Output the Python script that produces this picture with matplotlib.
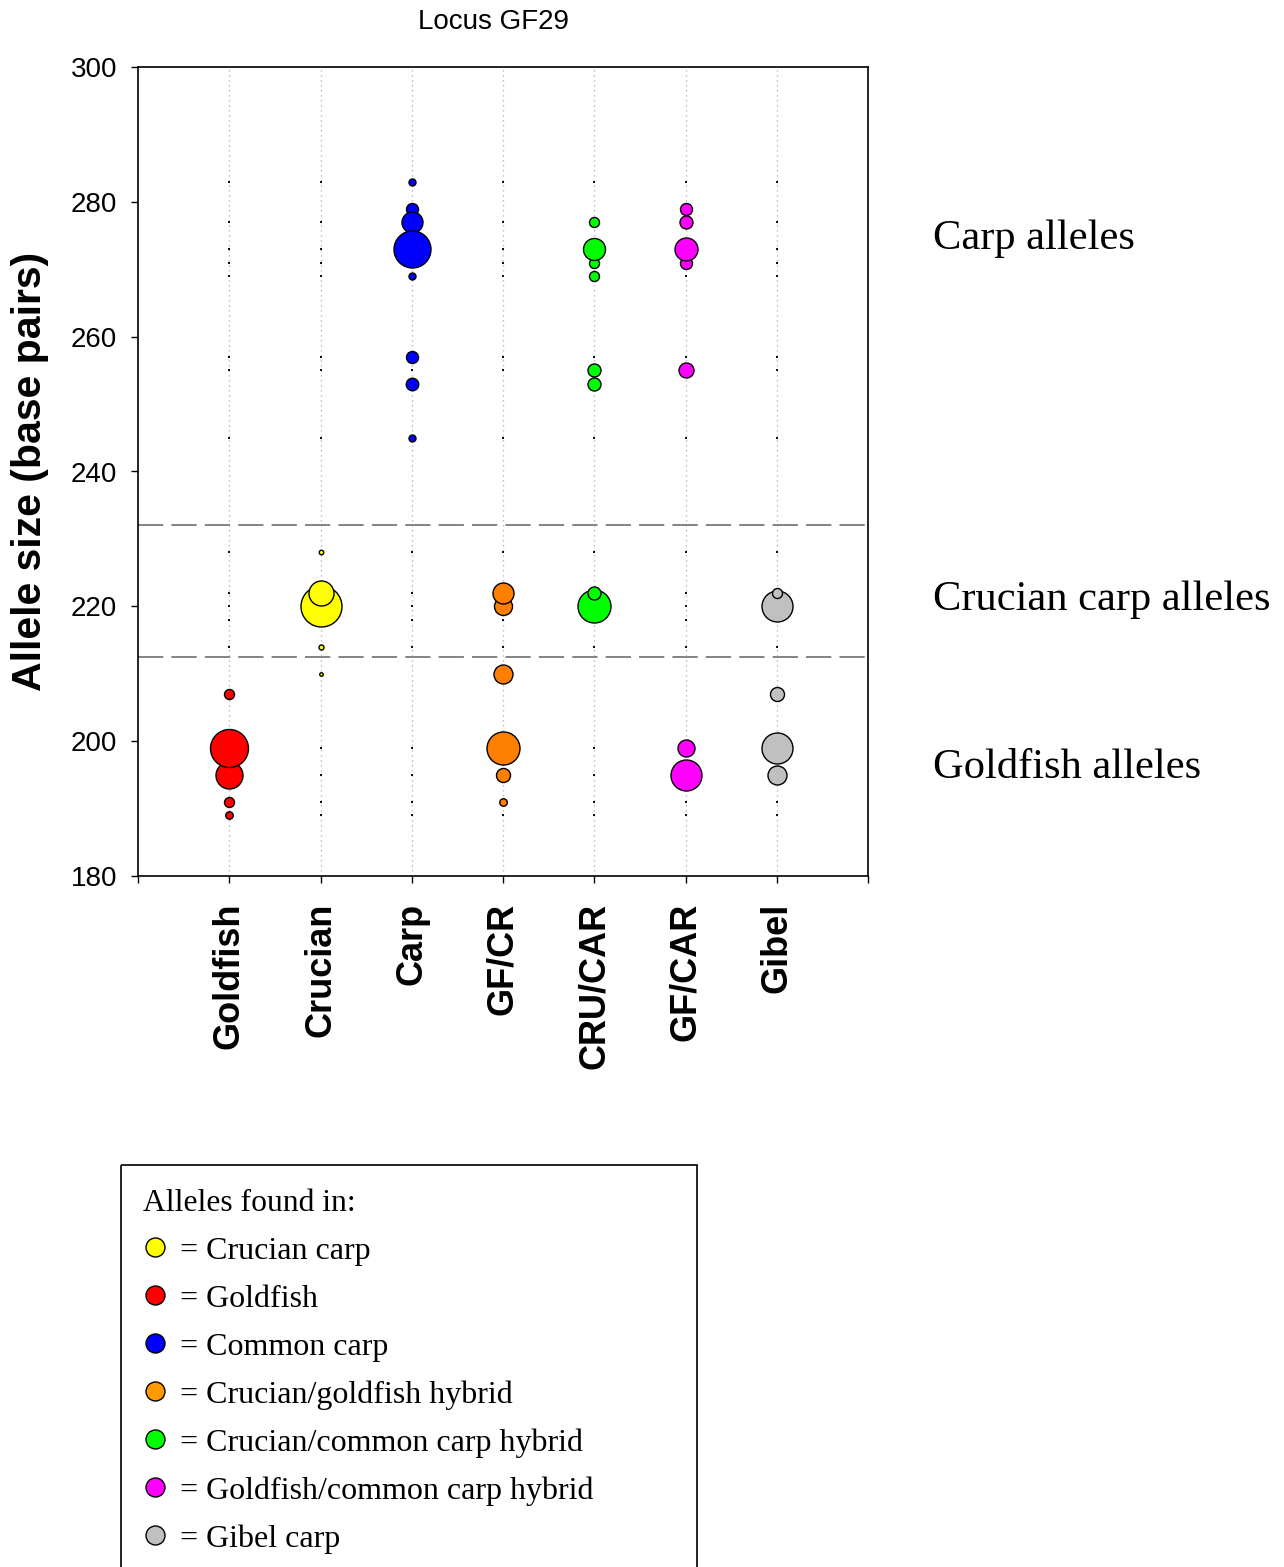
import matplotlib
matplotlib.use("Agg")
import matplotlib.pyplot as plt
from matplotlib.patches import Rectangle

# ---------------- data ----------------
categories = ["Goldfish", "Crucian", "Carp", "GF/CR", "CRU/CAR", "GF/CAR", "Gibel"]
colors = ["#FF0000", "#FFFF00", "#0000FF", "#FF8000", "#00FF00", "#FF00FF", "#C0C0C0"]

# allele sizes (bp) per category and marker diameter (px)
goldfish_alleles = [207, 191, 189, 195, 199]
goldfish_sizes = [10, 10, 7.5, 27, 38]
crucian_alleles = [228, 220, 222, 214, 210]
crucian_sizes = [4.5, 41, 25, 5, 3.5]
carp_alleles = [283, 279, 277, 269, 273, 257, 253, 245]
carp_sizes = [7, 12, 21, 7, 37, 12, 12.5, 7]
gfcr_alleles = [220, 222, 210, 199, 195, 191]
gfcr_sizes = [18, 21, 19, 33, 14, 7.5]
crucar_alleles = [277, 271, 269, 273, 255, 253, 220, 222]
crucar_sizes = [10, 10, 10, 22, 13, 13, 33, 13]
gfcar_alleles = [279, 277, 271, 273, 255, 199, 195]
gfcar_sizes = [12, 13, 12, 23, 15, 17, 31]
gibel_alleles = [220, 222, 207, 199, 195]
gibel_sizes = [31, 10, 14, 31, 19]

all_alleles = [goldfish_alleles, crucian_alleles, carp_alleles, gfcr_alleles,
               crucar_alleles, gfcar_alleles, gibel_alleles]
all_sizes = [goldfish_sizes, crucian_sizes, carp_sizes, gfcr_sizes,
             crucar_sizes, gfcar_sizes, gibel_sizes]

# allele sizes marked by tiny black points in every column
reference_alleles = [283, 277, 273, 271, 269, 257, 255, 245, 228, 222, 220,
                     218, 214, 199, 195, 191, 189]

# group boundaries
boundaries = [232, 212.5]

y_ticks = [180, 200, 220, 240, 260, 280, 300]

legend_labels = ["Crucian carp", "Goldfish", "Common carp", "Crucian/goldfish hybrid",
                 "Crucian/common carp hybrid", "Goldfish/common carp hybrid", "Gibel carp"]
legend_colors = ["#FFFF00", "#FF0000", "#0000FF", "#FF9900", "#00FF00", "#FF00FF", "#C0C0C0"]

group_labels = ["Carp alleles", "Crucian carp alleles", "Goldfish alleles"]
group_label_baselines = [249, 610, 778]

# ---------------- figure ----------------
W, H = 1284, 1567
DPI = 100
PX = 72.0 / DPI  # points per pixel

fig = plt.figure(figsize=(W / DPI, H / DPI), dpi=DPI)
fig.patch.set_facecolor("white")

ax = fig.add_axes([138 / W, 1 - 876 / H, 730 / W, 809 / H])
xpos = list(range(1, len(categories) + 1))
ax.set_xlim(0, len(categories) + 1)
ax.set_ylim(180, 300)

# vertical dotted guides
ax.vlines(xpos, 180, 300, colors="#A8A8A8", linestyles=(0, (1, 3)), linewidth=0.9, zorder=1)

# dashed group boundaries
for b in boundaries:
    ax.axhline(b, color="#7A7A7A", linestyle=(0, (14, 4.5)), linewidth=1.3, zorder=1)

# tiny reference dots
for x in xpos:
    ax.scatter([x] * len(reference_alleles), reference_alleles, s=(2.0) ** 2,
               marker="s", color="#101010", linewidths=0, zorder=2)

# allele bubbles
for x, alle, sizes, c in zip(xpos, all_alleles, all_sizes, colors):
    for a, d in zip(alle, sizes):
        ax.scatter([x], [a], s=(d * PX) ** 2, color=c, edgecolors="black",
                   linewidths=1.0, zorder=3)

ax.set_yticks(y_ticks)
ax.set_yticklabels([str(t) for t in y_ticks], fontsize=20, family="Liberation Sans")
ax.set_xticks(xpos)
ax.set_xticklabels(categories, rotation=90, fontsize=26, fontweight="bold",
                   family="Liberation Sans", va="top", ha="center")
ax.set_xticks([0, len(categories) + 1], minor=True)
ax.tick_params(axis="both", which="both", direction="out", length=5, width=1.0)
ax.tick_params(axis="y", pad=10)
ax.tick_params(axis="x", which="major", pad=14)
ax.yaxis.set_ticks_position("left")
ax.xaxis.set_ticks_position("bottom")
for sp in ax.spines.values():
    sp.set_linewidth(1.2)

# ---------------- overlay in pixel coordinates ----------------
ov = fig.add_axes([0, 0, 1, 1], facecolor="none")
ov.set_xlim(0, W)
ov.set_ylim(H, 0)
ov.axis("off")

ov.text(494, 22, "Locus GF29", fontsize=20, family="Liberation Sans",
        ha="center", va="center")
ov.text(30, 471, "Allele size (base pairs)", fontsize=29.5, fontweight="bold",
        family="Liberation Sans", rotation=90, ha="center", va="center")

for lab, yb in zip(group_labels, group_label_baselines):
    ov.text(933, yb, lab, fontsize=30.6, family="Liberation Serif",
            ha="left", va="baseline")

# legend box (extends beyond the bottom of the figure)
ov.add_patch(Rectangle((121, 1165), 576, 460, fill=False, edgecolor="black",
                       linewidth=1.2, clip_on=False))
ov.text(143, 1211, "Alleles found in:", fontsize=22.8, family="Liberation Serif",
        ha="left", va="baseline")
for i, (lab, c) in enumerate(zip(legend_labels, legend_colors)):
    yc = 1247 + 48 * i
    ov.scatter([155], [yc], s=(19 * PX) ** 2, color=c, edgecolors="black",
               linewidths=1.0, zorder=3)
    ov.text(180, yc + 12, "= " + lab, fontsize=23, family="Liberation Serif",
            ha="left", va="baseline")

fig.savefig("out.png", dpi=DPI)
